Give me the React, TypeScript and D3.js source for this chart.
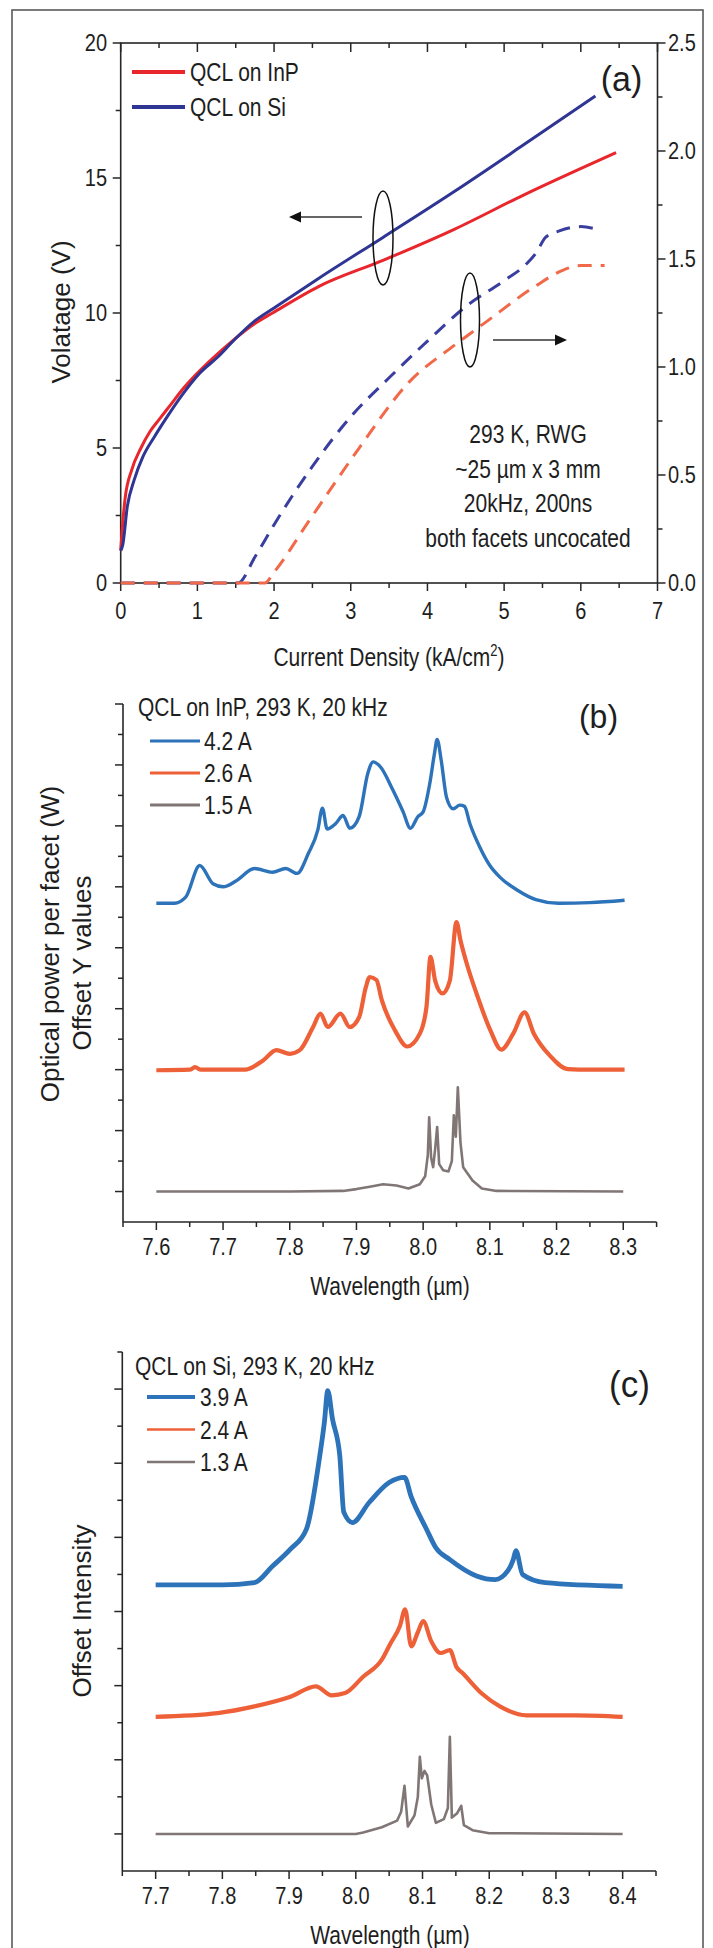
import React from 'react';
import * as d3 from 'd3';

// ---------- Panel (a): V-J (left axis) and P-J (right axis) ----------
const jInP = [0, 0.015, 0.056, 0.145, 0.264, 0.38, 0.5, 0.65, 0.8, 0.975, 1.21, 1.45, 1.745, 1.98, 2.58, 3.42, 4.35, 5.24, 6.46];
const vInP = [1.2, 1.8, 3.1, 4.2, 5.0, 5.6, 6.05, 6.6, 7.15, 7.7, 8.35, 8.95, 9.6, 10.0, 10.98, 11.95, 13.1, 14.35, 15.94];
const jSi = [0, 0.026, 0.086, 0.175, 0.29, 0.44, 0.62, 0.8, 1.03, 1.27, 1.48, 1.745, 1.98, 2.58, 3.42, 4.35, 5.24, 6.19];
const vSi = [1.2, 1.4, 2.83, 3.81, 4.68, 5.42, 6.22, 6.96, 7.77, 8.38, 9.0, 9.7, 10.15, 11.28, 12.8, 14.5, 16.2, 18.04];
const jPInP = [0, 1.88, 2.0, 2.46, 3.1, 3.76, 4.35, 4.77, 5.39, 5.78, 6.0, 6.31];
const pInP = [0, 0, 0.05, 0.29, 0.62, 0.93, 1.1, 1.21, 1.37, 1.45, 1.47, 1.47];
const jPSi = [0, 1.53, 1.75, 2.0, 2.5, 3.0, 3.5, 4.0, 4.5, 5.0, 5.3, 5.42, 5.54, 5.72, 6.0, 6.19];
const pSi = [0, 0, 0.12, 0.27, 0.54, 0.77, 0.95, 1.12, 1.28, 1.4, 1.48, 1.53, 1.6, 1.63, 1.65, 1.64];
const aXTicks = [0, 1, 2, 3, 4, 5, 6, 7];
const aVTicks = [0, 5, 10, 15, 20];
const aPTicks = ['0.0', '0.5', '1.0', '1.5', '2.0', '2.5'];
const aLegend = ['QCL on InP', 'QCL on Si'];
const aNotes = ['293 K, RWG', '~25 \u00b5m x 3 mm', '20kHz, 200ns', 'both facets uncocated'];

// ---------- Panel (b): QCL on InP spectra (offset) ----------
const lamB42 = [7.6, 7.627, 7.644, 7.665, 7.685, 7.7, 7.72, 7.747, 7.774, 7.794, 7.811, 7.828, 7.842, 7.849, 7.856, 7.869, 7.88, 7.89, 7.904, 7.917, 7.925, 7.935, 7.955, 7.97, 7.981, 7.992, 8.0, 8.01, 8.017, 8.021, 8.027, 8.035, 8.045, 8.055, 8.062, 8.07, 8.085, 8.1, 8.115, 8.142, 8.169, 8.203, 8.25, 8.302];
const valB42 = [4.73, 4.73, 4.83, 5.35, 5.05, 5.0, 5.1, 5.3, 5.24, 5.3, 5.22, 5.55, 5.93, 6.29, 5.95, 6.04, 6.17, 5.96, 6.15, 6.86, 7.05, 6.98, 6.58, 6.23, 5.96, 6.15, 6.23, 6.7, 7.19, 7.42, 7.08, 6.47, 6.28, 6.34, 6.32, 6.04, 5.65, 5.35, 5.16, 4.94, 4.79, 4.73, 4.74, 4.78];
const lamB26 = [7.6, 7.65, 7.658, 7.667, 7.733, 7.76, 7.78, 7.8, 7.815, 7.835, 7.846, 7.857, 7.876, 7.89, 7.904, 7.914, 7.92, 7.93, 7.938, 7.958, 7.976, 7.995, 8.005, 8.011, 8.018, 8.029, 8.04, 8.05, 8.056, 8.067, 8.08, 8.101, 8.117, 8.135, 8.152, 8.166, 8.19, 8.217, 8.25, 8.302];
const valB26 = [1.99, 2.0, 2.04, 2.0, 2.0, 2.15, 2.32, 2.26, 2.32, 2.7, 2.92, 2.7, 2.92, 2.7, 2.86, 3.35, 3.52, 3.47, 3.14, 2.64, 2.38, 2.59, 3.03, 3.85, 3.46, 3.25, 3.46, 4.42, 4.12, 3.68, 3.25, 2.64, 2.33, 2.59, 2.94, 2.59, 2.23, 2.01, 2.0, 2.0];
const lamB15 = [7.6, 7.8, 7.88, 7.9, 7.92, 7.94, 7.96, 7.978, 7.995, 8.003, 8.007, 8.009, 8.012, 8.015, 8.018, 8.021, 8.024, 8.03, 8.038, 8.043, 8.046, 8.049, 8.052, 8.056, 8.06, 8.074, 8.088, 8.11, 8.3];
const valB15 = [0, 0, 0.01, 0.04, 0.08, 0.12, 0.1, 0.05, 0.12, 0.25, 0.6, 1.22, 0.55, 0.4, 0.7, 1.06, 0.45, 0.35, 0.33, 0.5, 1.25, 0.9, 1.71, 0.8, 0.4, 0.18, 0.05, 0.01, 0];
const bXTicks = ['7.6', '7.7', '7.8', '7.9', '8.0', '8.1', '8.2', '8.3'];
const bLegend = ['4.2 A', '2.6 A', '1.5 A'];

// ---------- Panel (c): QCL on Si spectra (offset) ----------
const lamC39 = [7.7, 7.8, 7.848, 7.875, 7.902, 7.926, 7.946, 7.953, 7.958, 7.965, 7.976, 7.982, 7.995, 8.02, 8.05, 8.073, 8.083, 8.106, 8.12, 8.141, 8.181, 8.209, 8.228, 8.236, 8.24, 8.25, 8.284, 8.4];
const valC39 = [3.36, 3.36, 3.39, 3.61, 3.84, 4.11, 5.1, 5.56, 5.98, 5.6, 5.1, 4.34, 4.2, 4.47, 4.74, 4.81, 4.55, 4.11, 3.86, 3.7, 3.48, 3.43, 3.55, 3.7, 3.82, 3.5, 3.39, 3.34];
const lamC24 = [7.7, 7.793, 7.848, 7.902, 7.94, 7.964, 7.984, 8.011, 8.039, 8.052, 8.066, 8.074, 8.083, 8.093, 8.101, 8.113, 8.127, 8.141, 8.151, 8.16, 8.188, 8.216, 8.256, 8.33, 8.4];
const valC24 = [1.58, 1.63, 1.72, 1.85, 1.99, 1.87, 1.9, 2.12, 2.35, 2.57, 2.8, 3.03, 2.53, 2.72, 2.87, 2.6, 2.44, 2.48, 2.25, 2.17, 1.9, 1.72, 1.6, 1.6, 1.58];
const lamC13 = [7.7, 8.0, 8.011, 8.039, 8.062, 8.068, 8.073, 8.078, 8.088, 8.093, 8.096, 8.099, 8.103, 8.107, 8.11, 8.113, 8.12, 8.132, 8.138, 8.141, 8.144, 8.152, 8.158, 8.162, 8.175, 8.2, 8.4];
const valC13 = [0, 0, 0.02, 0.09, 0.18, 0.3, 0.65, 0.1, 0.25, 0.5, 1.04, 0.75, 0.85, 0.79, 0.6, 0.4, 0.15, 0.2, 0.35, 1.31, 0.22, 0.28, 0.38, 0.12, 0.05, 0.01, 0];
const cXTicks = ['7.7', '7.8', '7.9', '8.0', '8.1', '8.2', '8.3', '8.4'];
const cLegend = ['3.9 A', '2.4 A', '1.3 A'];

const FONT = '"Liberation Sans", Arial, Helvetica, sans-serif';
const TXT = '#1e1e1e';
const AX = '#262626';
const RED = '#e8262b';
const NAVY = '#2f3592';
const RED_D = '#f2694a';
const NAVY_D = '#3a3f9f';
const SB = '#2c73b9';
const SR = '#ee6038';
const SG = '#807676';

const SY = 1.22;
const TSY = 1.15;

type TP = { x: number; y: number; size?: number; anchor?: string; sy?: number; rot?: number; children: React.ReactNode };
function T({ x, y, size = 21, anchor = 'start', sy = SY, rot, children }: TP) {
  const tr = rot !== undefined ? `translate(${x},${y}) rotate(${rot})` : `translate(${x},${y}) scale(1,${sy})`;
  return (
    <text transform={tr} fontSize={size} textAnchor={anchor as any} fontFamily={FONT} fill={TXT}>
      {children}
    </text>
  );
}

const zip = (a: number[], b: number[]) => a.map((v, i) => [v, b[i]] as [number, number]);

export default function App() {
  const xA = d3.scaleLinear().domain([0, 7]).range([120.7, 657.5]);
  const yV = d3.scaleLinear().domain([0, 20]).range([583, 43]);
  const yP = d3.scaleLinear().domain([0, 2.5]).range([583, 43]);

  const xB = d3.scaleLinear().domain([7.55, 8.35]).range([123, 656.6]);
  const yB = d3.scaleLinear().domain([-0.5, 8]).range([1222, 704]);

  const xC = d3.scaleLinear().domain([7.65, 8.45]).range([122.3, 656]);
  const yC = d3.scaleLinear().domain([-0.5, 6.5]).range([1871, 1352]);

  const smooth = (xs: any, ys: any) => d3.line<[number, number]>().x(d => xs(d[0])).y(d => ys(d[1])).curve(d3.curveMonotoneX);
  const lin = (xs: any, ys: any) => d3.line<[number, number]>().x(d => xs(d[0])).y(d => ys(d[1]));

  const la = smooth(xA, yV);
  const lp = smooth(xA, yP);
  const lbS = smooth(xB, yB);
  const lbL = lin(xB, yB);
  const lcS = smooth(xC, yC);
  const lcL = lin(xC, yC);

  const aHalf = d3.range(0, 7.001, 0.5);
  const aVAll = d3.range(0, 20.001, 2.5);
  const aPAll = d3.range(0, 2.5001, 0.25);

  const bX = d3.range(0, 17).map(i => 7.55 + i * 0.05);
  const bY = d3.range(0, 17).map(i => 0 + i * 0.5);
  const cX = d3.range(0, 17).map(i => 7.65 + i * 0.05);
  const cY = d3.range(0, 14).map(i => 0 + i * 0.5);

  const axisStyle = { stroke: AX, strokeWidth: 1.6, fill: 'none' } as const;

  return (
    <svg width={713} height={1948} style={{ position: 'absolute', left: 0, top: 0, background: '#fff' }} xmlns="http://www.w3.org/2000/svg">
      <rect x={0} y={0} width={713} height={1948} fill="#fff" />
      <rect x={12} y={10} width={691} height={1950} fill="none" stroke="#5a5a5a" strokeWidth={1.6} />

      {/* ================= Panel (a) ================= */}
      <g>
        <rect x={xA(0)} y={yV(20)} width={xA(7) - xA(0)} height={yV(0) - yV(20)} {...axisStyle} />
        {aHalf.map((v, i) => {
          const maj = Math.abs(v - Math.round(v)) < 1e-6;
          return (
            <g key={'ax' + i}>
              <line x1={xA(v)} x2={xA(v)} y1={yV(0)} y2={yV(0) + (maj ? 8 : 5)} stroke={AX} strokeWidth={1.5} />
              <line x1={xA(v)} x2={xA(v)} y1={yV(20)} y2={yV(20) + (maj ? 9 : 5)} stroke={AX} strokeWidth={1.5} />
            </g>
          );
        })}
        {aVAll.map((v, i) => {
          const maj = v % 5 === 0;
          return <line key={'av' + i} x1={xA(0) - (maj ? 8 : 5)} x2={xA(0)} y1={yV(v)} y2={yV(v)} stroke={AX} strokeWidth={1.5} />;
        })}
        {aPAll.map((v, i) => {
          const maj = Math.abs(v * 2 - Math.round(v * 2)) < 1e-6;
          return <line key={'ap' + i} x1={xA(7)} x2={xA(7) + (maj ? 8 : 5)} y1={yP(v)} y2={yP(v)} stroke={AX} strokeWidth={1.5} />;
        })}
        {aXTicks.map(v => (
          <T key={'axl' + v} x={xA(v)} y={619} size={20} sy={TSY} anchor="middle">{v}</T>
        ))}
        {aVTicks.map(v => (
          <T key={'avl' + v} x={107} y={yV(v) + 8} size={20} sy={TSY} anchor="end">{v}</T>
        ))}
        {aPTicks.map(s => (
          <T key={'apl' + s} x={668} y={yP(+s) + 8} size={20} sy={TSY} anchor="start">{s}</T>
        ))}
        <text transform={`translate(389,666) scale(1,${SY})`} fontSize={21} textAnchor="middle" fontFamily={FONT} fill={TXT}>
          Current Density (kA/cm<tspan fontSize={13} dy={-8}>2</tspan><tspan dy={8}>)</tspan>
        </text>
        <T x={70} y={312} size={26} rot={-90} anchor="middle">Volatage (V)</T>

        <path d={lp(zip(jPSi, pSi)) || ''} fill="none" stroke={NAVY_D} strokeWidth={3} strokeDasharray="14 9" />
        <path d={lp(zip(jPInP, pInP)) || ''} fill="none" stroke={RED_D} strokeWidth={3} strokeDasharray="14 9" />
        <path d={la(zip(jInP, vInP)) || ''} fill="none" stroke={RED} strokeWidth={3} />
        <path d={la(zip(jSi, vSi)) || ''} fill="none" stroke={NAVY} strokeWidth={3} />

        {aLegend.map((s, i) => (
          <g key={'al' + i}>
            <line x1={132} x2={185} y1={72 + i * 35} y2={72 + i * 35} stroke={i === 0 ? RED : NAVY} strokeWidth={4} />
            <T x={190} y={72 + i * 35 + 9} size={21}>{s}</T>
          </g>
        ))}
        <T x={621.5} y={91} size={34} sy={1.05} anchor="middle">(a)</T>

        <ellipse cx={383} cy={238} rx={10} ry={47} fill="none" stroke="#111" strokeWidth={1.5} />
        <line x1={362} x2={298} y1={217} y2={217} stroke="#333" strokeWidth={1.5} />
        <path d="M289,217 L301,211.5 L301,222.5 Z" fill="#111" />
        <ellipse cx={470} cy={320} rx={9.5} ry={47} fill="none" stroke="#111" strokeWidth={1.5} />
        <line x1={493} x2={558} y1={340} y2={340} stroke="#333" strokeWidth={1.5} />
        <path d="M567,340 L555,334.5 L555,345.5 Z" fill="#111" />

        {aNotes.map((s, i) => (
          <T key={'an' + i} x={528} y={443 + i * 34.7} size={21} anchor="middle">{s}</T>
        ))}
      </g>

      {/* ================= Panel (b) ================= */}
      <g>
        <line x1={xB(7.55)} x2={xB(7.55)} y1={yB(8)} y2={yB(-0.5)} {...axisStyle} />
        <line x1={xB(7.55)} x2={xB(8.35)} y1={yB(-0.5)} y2={yB(-0.5)} {...axisStyle} />
        {bY.map((v, i) => {
          const maj = Math.abs(v - Math.round(v)) < 1e-6;
          return <line key={'by' + i} x1={xB(7.55) - (maj ? 8 : 5)} x2={xB(7.55)} y1={yB(v)} y2={yB(v)} stroke={AX} strokeWidth={1.5} />;
        })}
        {bX.map((v, i) => {
          const maj = Math.round(v * 20) % 2 === 0;
          return <line key={'bx' + i} x1={xB(v)} x2={xB(v)} y1={yB(-0.5)} y2={yB(-0.5) + (maj ? 8 : 5)} stroke={AX} strokeWidth={1.5} />;
        })}
        {bXTicks.map(s => (
          <T key={'bxl' + s} x={xB(+s)} y={1255} size={20} sy={TSY} anchor="middle">{s}</T>
        ))}
        <T x={390} y={1295} size={21} anchor="middle">Wavelength (µm)</T>
        <T x={59} y={944} size={26} rot={-90} anchor="middle">Optical power per facet (W)</T>
        <T x={91} y={963} size={26} rot={-90} anchor="middle">Offset Y values</T>

        <path d={lbL(zip(lamB15, valB15)) || ''} fill="none" stroke={SG} strokeWidth={2.6} strokeLinejoin="round" />
        <path d={lbS(zip(lamB26, valB26)) || ''} fill="none" stroke={SR} strokeWidth={4.2} strokeLinejoin="round" />
        <path d={lbS(zip(lamB42, valB42)) || ''} fill="none" stroke={SB} strokeWidth={3.4} strokeLinejoin="round" />

        <T x={138} y={716} size={21}>QCL on InP, 293 K, 20 kHz</T>
        {bLegend.map((s, i) => (
          <g key={'bl' + i}>
            <line x1={150} x2={200} y1={741 + i * 32} y2={741 + i * 32} stroke={[SB, SR, SG][i]} strokeWidth={3} />
            <T x={204} y={741 + i * 32 + 9} size={21}>{s}</T>
          </g>
        ))}
        <T x={598.5} y={728} size={32} sy={1.05} anchor="middle">(b)</T>
      </g>

      {/* ================= Panel (c) ================= */}
      <g>
        <line x1={xC(7.65)} x2={xC(7.65)} y1={yC(6.5)} y2={yC(-0.5)} {...axisStyle} />
        <line x1={xC(7.65)} x2={xC(8.45)} y1={yC(-0.5)} y2={yC(-0.5)} {...axisStyle} />
        {cY.map((v, i) => {
          const maj = Math.abs(v - Math.round(v)) < 1e-6;
          return <line key={'cy' + i} x1={xC(7.65) - (maj ? 8 : 5)} x2={xC(7.65)} y1={yC(v)} y2={yC(v)} stroke={AX} strokeWidth={1.5} />;
        })}
        {cX.map((v, i) => {
          const maj = Math.round(v * 20) % 2 === 0;
          return <line key={'cx' + i} x1={xC(v)} x2={xC(v)} y1={yC(-0.5)} y2={yC(-0.5) + (maj ? 8 : 5)} stroke={AX} strokeWidth={1.5} />;
        })}
        {cXTicks.map(s => (
          <T key={'cxl' + s} x={xC(+s)} y={1904} size={20} sy={TSY} anchor="middle">{s}</T>
        ))}
        <T x={390} y={1944} size={21} anchor="middle">Wavelength (µm)</T>
        <T x={91} y={1611} size={26} rot={-90} anchor="middle">Offset Intensity</T>

        <path d={lcL(zip(lamC13, valC13)) || ''} fill="none" stroke={SG} strokeWidth={2.6} strokeLinejoin="round" />
        <path d={lcS(zip(lamC24, valC24)) || ''} fill="none" stroke={SR} strokeWidth={4.2} strokeLinejoin="round" />
        <path d={lcS(zip(lamC39, valC39)) || ''} fill="none" stroke={SB} strokeWidth={4.8} strokeLinejoin="round" />

        <T x={135} y={1375} size={21}>QCL on Si, 293 K, 20 kHz</T>
        {cLegend.map((s, i) => (
          <g key={'cl' + i}>
            <line x1={147} x2={195} y1={1397 + i * 32.5} y2={1397 + i * 32.5} stroke={[SB, SR, SG][i]} strokeWidth={[4, 2.5, 2.5][i]} />
            <T x={200} y={1397 + i * 32.5 + 9} size={21}>{s}</T>
          </g>
        ))}
        <T x={629.5} y={1397} size={35} sy={1.05} anchor="middle">(c)</T>
      </g>
    </svg>
  );
}
